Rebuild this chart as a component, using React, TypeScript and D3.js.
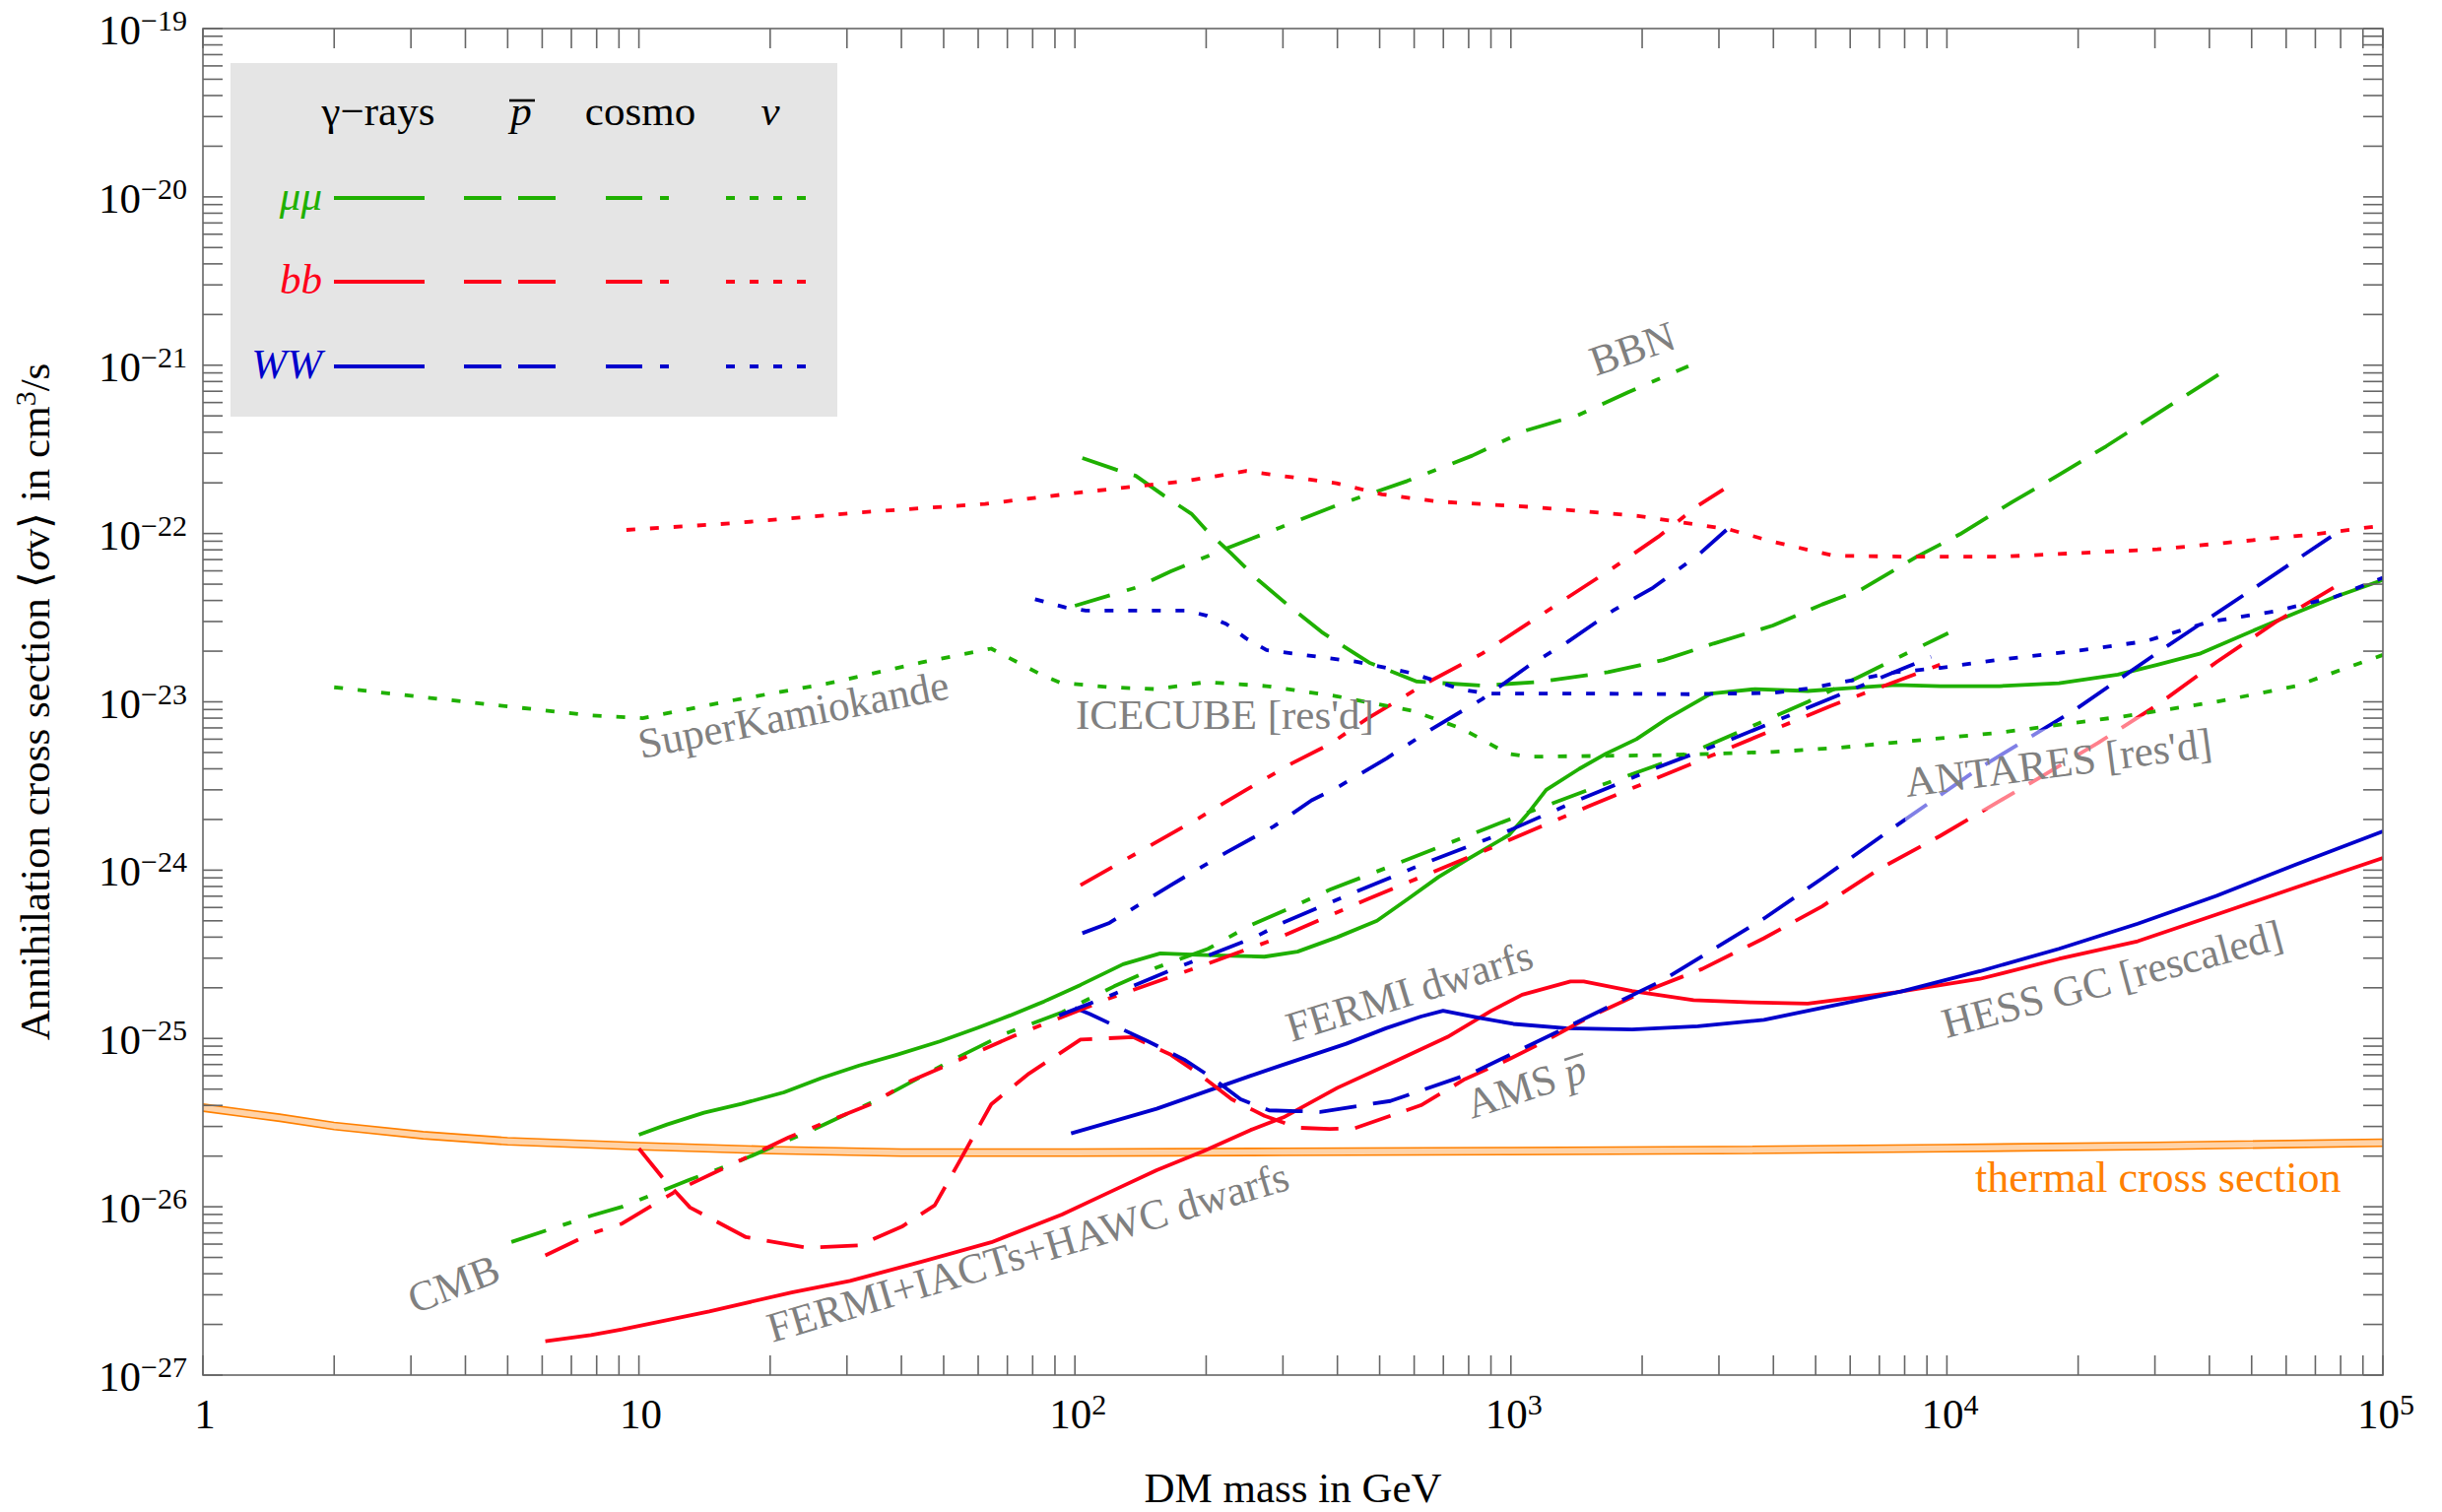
import React from 'react'
import * as d3 from 'd3'

type Pt = [number, number]

// thermal relic cross section, centre of the band  [mass GeV, <sigma v> cm^3/s]
const thermal: Pt[] = [
  [1, 3.88e-26], [1.5, 3.38e-26], [2, 3.02e-26], [3.2, 2.66e-26], [5, 2.45e-26], [10, 2.29e-26],
  [20, 2.17e-26], [40, 2.1e-26], [100, 2.1e-26], [300, 2.12e-26], [1000, 2.14e-26], [3000, 2.17e-26],
  [10000, 2.23e-26], [30000, 2.3e-26], [100000, 2.4e-26],
]

// gamma rays
const gammaMuMu: Pt[] = [
  [10, 2.68e-26], [11.6, 3.08e-26], [14.1, 3.62e-26], [17.2, 4.09e-26], [21.5, 4.78e-26], [26.2, 5.81e-26],
  [32, 6.9e-26], [39, 8.0e-26], [49, 9.6e-26], [60, 1.16e-25], [71, 1.37e-25], [85, 1.66e-25],
  [103, 2.08e-25], [129, 2.76e-25], [157, 3.2e-25], [192, 3.14e-25], [229, 3.1e-25], [272, 3.06e-25],
  [324, 3.28e-25], [400, 4.0e-25], [493, 5.0e-25], [581, 6.76e-25], [682, 9.1e-25], [804, 1.18e-24],
  [991, 1.62e-24], [1086, 2.12e-24], [1205, 3.0e-24], [1435, 4.0e-24], [1652, 4.92e-24], [1941, 6.0e-24],
  [2286, 7.96e-24], [2877, 1.12e-23], [3631, 1.19e-23], [4797, 1.16e-23], [6053, 1.21e-23], [7638, 1.26e-23],
  [9660, 1.24e-23], [13213, 1.24e-23], [18072, 1.29e-23], [24660, 1.45e-23], [30409, 1.66e-23],
  [38194, 1.94e-23], [51168, 2.69e-23], [63096, 3.37e-23], [77625, 4.2e-23], [100000, 5.3e-23],
]
const gammaBB: Pt[] = [
  [6.1, 1.59e-27], [7.76, 1.73e-27], [9.15, 1.87e-27], [14.5, 2.39e-27], [22.4, 3.1e-27], [30.5, 3.63e-27],
  [44.3, 4.7e-27], [64.3, 6.15e-27], [93.4, 9.0e-27], [120, 1.22e-26], [154, 1.65e-26], [197, 2.14e-26],
  [253, 2.86e-26], [301, 3.4e-26], [400, 5.09e-26], [529, 7.1e-26], [715, 1.02e-25], [902, 1.46e-25],
  [1061, 1.82e-25], [1370, 2.18e-25], [1469, 2.18e-25], [1897, 1.91e-25], [2624, 1.69e-25],
  [3550, 1.64e-25], [4797, 1.61e-25], [7638, 1.88e-25], [11910, 2.26e-25], [18070, 2.97e-25],
  [27400, 3.78e-25], [41500, 5.44e-25], [63100, 7.89e-25], [100000, 1.18e-24],
]
const gammaWW: Pt[] = [
  [98, 2.73e-26], [154, 3.82e-26], [253, 6.0e-26], [296, 6.89e-26], [419, 9.3e-26], [517, 1.15e-25],
  [622, 1.35e-25], [699, 1.46e-25], [841, 1.33e-25], [1013, 1.22e-25], [1339, 1.15e-25], [1897, 1.13e-25],
  [2685, 1.18e-25], [3805, 1.29e-25], [5176, 1.52e-25], [7850, 1.9e-25], [11910, 2.51e-25],
  [18070, 3.41e-25], [27400, 4.81e-25], [41500, 7.03e-25], [63100, 1.08e-24], [100000, 1.7e-24],
]

// antiprotons
const pbarMuMu: Pt[] = [
  [104, 2.81e-22], [124, 2.4e-22], [138, 2.2e-22], [160, 1.68e-22], [185, 1.31e-22], [200, 1.05e-22],
  [228, 7.64e-23], [264, 5.26e-23], [306, 3.81e-23], [368, 2.6e-23], [420, 2.08e-23], [473, 1.71e-23],
  [609, 1.32e-23], [860, 1.25e-23], [1151, 1.31e-23], [1670, 1.5e-23], [2235, 1.77e-23], [2917, 2.22e-23],
  [3990, 2.84e-23], [5176, 3.79e-23], [6368, 4.66e-23], [8531, 7.28e-23], [10715, 9.91e-23],
  [14060, 1.53e-22], [18060, 2.23e-22], [23190, 3.3e-22], [29760, 4.99e-22], [38200, 7.53e-22],
  [43350, 9.26e-22],
]
const pbarBB: Pt[] = [
  [10, 2.22e-26], [11.3, 1.5e-26], [13.1, 9.9e-27], [17.6, 6.6e-27], [24.4, 5.7e-27], [32, 5.9e-27],
  [40.1, 7.62e-27], [47.7, 1.02e-26], [54.1, 1.82e-26], [64.3, 4.07e-26], [78.5, 6.19e-26], [103, 9.84e-26],
  [136, 1.02e-25], [166, 8.0e-26], [192, 6.19e-26], [229, 4.35e-26], [272, 3.47e-26], [324, 2.95e-26],
  [384, 2.9e-26], [439, 2.93e-26], [622, 4.01e-26], [785, 5.74e-26], [991, 7.53e-26], [1191, 9.57e-26],
  [1503, 1.33e-25], [2032, 1.91e-25], [2748, 2.59e-25], [3805, 3.94e-25], [5176, 6.1e-25],
  [7063, 1.03e-24], [9660, 1.6e-24], [12400, 2.34e-24], [16270, 3.53e-24], [22230, 5.71e-24],
  [30410, 9.6e-24], [41500, 1.72e-23], [56800, 2.98e-23], [77600, 4.82e-23],
]
const pbarWW: Pt[] = [
  [100, 1.52e-25], [108, 1.4e-25], [146, 9.7e-26], [178, 7.5e-26], [207, 5.8e-26], [240, 4.35e-26],
  [279, 3.74e-26], [324, 3.7e-26], [365, 3.66e-26], [529, 4.25e-26], [822, 6.29e-26], [1339, 1.16e-25],
  [2232, 2.22e-25], [3805, 5.16e-25], [5176, 8.93e-25], [7520, 1.78e-24], [11910, 4.06e-24],
  [19630, 8.93e-24], [31700, 2.11e-23], [51200, 4.82e-23], [76000, 9.58e-23],
]

// cosmology: CMB (lower) and BBN (upper)
const cmbMuMu: Pt[] = [
  [5.1, 6.18e-27], [7.76, 8.84e-27], [9.15, 1.0e-26], [13.1, 1.45e-26], [16.6, 1.82e-26], [25, 2.86e-26],
  [36.3, 4.48e-26], [51.4, 7.26e-26], [69.3, 1.07e-25], [93.4, 1.43e-25], [123, 2.04e-25], [154, 2.64e-25],
  [202, 3.41e-25], [253, 4.71e-25], [309, 5.9e-25], [384, 7.64e-25], [517, 1.03e-24], [991, 2.0e-24],
  [1574, 3.13e-24], [2566, 4.92e-24], [4797, 1.0e-23], [6370, 1.43e-23], [7520, 1.77e-23], [10070, 2.56e-23],
]
const cmbBB: Pt[] = [
  [6.1, 5.14e-27], [7.76, 6.92e-27], [9.15, 7.94e-27], [12.3, 1.26e-26], [22.1, 2.59e-26], [34, 4.07e-26],
  [42.2, 5.62e-26], [72.8, 1.04e-25], [120, 1.73e-25], [197, 2.72e-25], [296, 4.0e-25], [471, 6.76e-25],
  [861, 1.29e-24], [1503, 2.39e-24], [2877, 4.78e-24], [5395, 9.42e-24], [9640, 1.66e-23],
]
const cmbWW: Pt[] = [
  [92, 1.37e-25], [120, 1.79e-25], [166, 2.55e-25], [259, 4.0e-25], [296, 4.8e-25], [439, 7.4e-25],
  [652, 1.13e-24], [991, 1.72e-24], [1435, 2.62e-24], [2130, 4.0e-24], [3160, 5.9e-24], [4690, 9.0e-24],
  [8000, 1.59e-23], [9200, 1.85e-23],
]
const bbnMuMu: Pt[] = [
  [100, 3.72e-23], [138, 4.77e-23], [166, 5.97e-23], [228, 8.36e-23], [297, 1.09e-22], [398, 1.47e-22],
  [578, 2.05e-22], [815, 2.9e-22], [1078, 4.08e-22], [1423, 5.04e-22], [1857, 6.9e-22], [2553, 9.88e-22],
]
const bbnBB: Pt[] = [
  [103, 8.15e-25], [146, 1.36e-24], [192, 2.03e-24], [247, 3.0e-24], [314, 4.3e-24], [384, 5.6e-24],
  [467, 7.91e-24], [643, 1.3e-23], [860, 1.94e-23], [1063, 2.78e-23], [1350, 4.17e-23], [1714, 6.24e-23],
  [2178, 9.57e-23], [2692, 1.47e-22], [3073, 1.83e-22],
]
const bbnWW: Pt[] = [
  [104, 4.22e-25], [120, 4.86e-25], [166, 8.15e-25], [223, 1.28e-24], [286, 1.82e-24], [349, 2.6e-24],
  [398, 3.08e-24], [519, 4.62e-24], [660, 6.92e-24], [860, 1.04e-23], [1092, 1.62e-23], [1350, 2.27e-23],
  [1714, 3.48e-23], [2120, 4.77e-23], [2692, 7.47e-23], [3120, 1.05e-22],
]

// neutrinos (SuperK / IceCube / ANTARES)
const nuMuMu: Pt[] = [
  [2, 1.22e-23], [4, 1.0e-23], [7.76, 8.3e-24], [10.2, 8.0e-24], [16.4, 1.02e-23], [26.9, 1.28e-23],
  [44.3, 1.71e-23], [64.3, 2.07e-23], [84.6, 1.43e-23], [92.5, 1.3e-23], [120, 1.22e-23], [153, 1.19e-23],
  [200, 1.31e-23], [275, 1.24e-23], [398, 1.08e-23], [593, 8.86e-24], [773, 6.92e-24], [982, 4.93e-24],
  [1092, 4.72e-24], [2235, 4.82e-24], [3990, 5.04e-24], [5620, 5.33e-24], [13200, 6.56e-24],
  [25200, 8.17e-24], [41500, 1.0e-23], [63100, 1.24e-23], [100000, 1.9e-23],
]
const nuBB: Pt[] = [
  [9.36, 1.05e-22], [16.4, 1.15e-22], [31.6, 1.33e-22], [62.2, 1.5e-22], [106, 1.77e-22], [180, 2.05e-22],
  [247, 2.35e-22], [398, 1.99e-22], [506, 1.71e-22], [677, 1.55e-22], [1151, 1.43e-22], [1959, 1.27e-22],
  [3157, 1.06e-22], [3990, 8.94e-23], [5500, 7.38e-23], [8350, 7.28e-23], [13200, 7.28e-23],
  [30400, 8.05e-23], [70000, 9.91e-23], [96000, 1.1e-22],
]
const nuWW: Pt[] = [
  [81, 4.07e-23], [95, 3.64e-23], [106, 3.48e-23], [180, 3.48e-23], [200, 3.26e-23], [222, 2.91e-23],
  [247, 2.38e-23], [275, 2.03e-23], [443, 1.73e-23], [593, 1.48e-23], [773, 1.18e-23], [883, 1.12e-23],
  [1500, 1.12e-23], [2553, 1.11e-23], [3990, 1.13e-23], [4800, 1.2e-23], [7640, 1.5e-23], [9640, 1.59e-23],
  [13200, 1.78e-23], [19630, 2.0e-23], [28560, 2.29e-23], [39800, 2.98e-23], [56800, 3.46e-23],
  [77600, 4.2e-23], [100000, 5.46e-23],
]

const GREEN = '#1fb000'
const RED = '#ff0019'
const BLUE = '#0000cc'
const ORANGE = '#ff8000'
const GRAY = '#808080'
const FONT = "'Liberation Serif', 'Times New Roman', Times, serif"

const DASH: Record<string, string | undefined> = {
  solid: undefined,
  dashed: '38,17',
  dotdash: '37,18,9,18',
  dotted: '9,15',
}

const curves: { data: Pt[]; color: string; style: string }[] = [
  { data: gammaMuMu, color: GREEN, style: 'solid' },
  { data: gammaBB, color: RED, style: 'solid' },
  { data: gammaWW, color: BLUE, style: 'solid' },
  { data: pbarMuMu, color: GREEN, style: 'dashed' },
  { data: pbarBB, color: RED, style: 'dashed' },
  { data: pbarWW, color: BLUE, style: 'dashed' },
  { data: cmbMuMu, color: GREEN, style: 'dotdash' },
  { data: cmbBB, color: RED, style: 'dotdash' },
  { data: cmbWW, color: BLUE, style: 'dotdash' },
  { data: bbnMuMu, color: GREEN, style: 'dotdash' },
  { data: bbnBB, color: RED, style: 'dotdash' },
  { data: bbnWW, color: BLUE, style: 'dotdash' },
  { data: nuMuMu, color: GREEN, style: 'dotted' },
  { data: nuBB, color: RED, style: 'dotted' },
  { data: nuWW, color: BLUE, style: 'dotted' },
]

const notes = [
  { text: 'BBN', x: 1620, y: 382, angle: -19 },
  { text: 'SuperKamiokande', x: 651, y: 770, angle: -11 },
  { text: "ICECUBE [res'd]", x: 1092, y: 740, angle: 0 },
  { text: 'FERMI dwarfs', x: 1311, y: 1058, angle: -17 },
  { text: 'HESS GC [rescaled]', x: 1976, y: 1054, angle: -15 },
  { text: 'FERMI+IACTs+HAWC dwarfs', x: 784, y: 1363, angle: -16.5 },
  { text: 'CMB', x: 421, y: 1334, angle: -21 },
]

const W = 2479
const H = 1535
const L = 206
const R = 2419
const T = 29
const B = 1396

const App: React.FC = () => {
  const x = d3.scaleLog().domain([1, 1e5]).range([L, R])
  const y = d3.scaleLog().domain([1e-27, 1e-19]).range([B, T])

  const line = d3.line<Pt>().x((d) => x(d[0])).y((d) => y(d[1]))
  const bw = 1.05
  const band = d3
    .area<Pt>()
    .x((d) => x(d[0]))
    .y0((d) => y(d[1] / bw))
    .y1((d) => y(d[1] * bw))

  const isMajor = (v: number) => Math.abs(Math.log10(v) - Math.round(Math.log10(v))) < 1e-6
  const xt = x.ticks()
  const yt = y.ticks()
  const tk = 20
  const axisColor = '#666'

  const legendRows = [
    { label: 'μμ', color: GREEN, y: 201 },
    { label: 'bb', color: RED, y: 286 },
    { label: 'WW', color: BLUE, y: 372 },
  ]
  const legendCols = [
    { style: 'solid', x1: 339, x2: 431 },
    { style: 'dashed', x1: 471, x2: 564 },
    { style: 'dotdash', x1: 615, x2: 679 },
    { style: 'dotted', x1: 737, x2: 818 },
  ]

  return (
    <svg
      width={W}
      height={H}
      style={{ position: 'absolute', left: 0, top: 0, background: '#fff' }}
      fontFamily={FONT}
    >
      <defs>
        <clipPath id="plot">
          <rect x={L} y={T} width={R - L} height={B - T} />
        </clipPath>
      </defs>
      <rect x={0} y={0} width={W} height={H} fill="#fff" />

      <g clipPath="url(#plot)">
        <path d={band(thermal) || ''} fill="#ffd3a8" stroke="none" />
        <path d={line(thermal.map((d) => [d[0], d[1] / bw] as Pt)) || ''} fill="none" stroke={ORANGE} strokeWidth={1.6} />
        <path d={line(thermal.map((d) => [d[0], d[1] * bw] as Pt)) || ''} fill="none" stroke={ORANGE} strokeWidth={1.6} />

        {curves.map((c, i) => (
          <path
            key={i}
            d={line(c.data) || ''}
            fill="none"
            stroke={c.color}
            strokeWidth={3.8}
            strokeDasharray={DASH[c.style]}
            strokeLinejoin="round"
          />
        ))}

        {/* ANTARES label sits on a half transparent white box */}
        <g transform="translate(1936,809) rotate(-7.5)">
          <rect x={-5} y={-50} width={327} height={74} fill="#fff" opacity={0.5} />
        </g>
      </g>

      {/* frame and ticks */}
      <rect x={L} y={T} width={R - L} height={B - T} fill="none" stroke={axisColor} strokeWidth={1.6} />
      {xt.map((v, i) => (
        <g key={'x' + i} stroke={axisColor} strokeWidth={1.6}>
          <line x1={x(v)} x2={x(v)} y1={B} y2={B - tk} />
          <line x1={x(v)} x2={x(v)} y1={T} y2={T + tk} />
        </g>
      ))}
      {yt.map((v, i) => (
        <g key={'y' + i} stroke={axisColor} strokeWidth={1.6}>
          <line x1={L} x2={L + tk} y1={y(v)} y2={y(v)} />
          <line x1={R} x2={R - tk} y1={y(v)} y2={y(v)} />
        </g>
      ))}

      {/* tick labels */}
      {xt.filter(isMajor).map((v, i) => {
        const k = Math.round(Math.log10(v))
        return (
          <text key={'xl' + i} x={x(v) + (k > 1 ? 3 : 2)} y={1450} fontSize={43} textAnchor="middle">
            {k === 0 ? '1' : '10'}
            {k > 1 && (
              <tspan dy={-14} fontSize={30}>
                {k}
              </tspan>
            )}
          </text>
        )
      })}
      {yt.filter(isMajor).map((v, i) => {
        const k = Math.round(Math.log10(v))
        return (
          <text key={'yl' + i} x={190} y={y(v) + 16} fontSize={43} textAnchor="end">
            10
            <tspan dy={-14} fontSize={30}>
              {'\u2212' + Math.abs(k)}
            </tspan>
          </text>
        )
      })}

      {/* axis titles */}
      <text x={(L + R) / 2} y={1525} fontSize={43} textAnchor="middle">
        DM mass in GeV
      </text>
      <text transform={`translate(50,${(T + B) / 2}) rotate(-90)`} fontSize={43} textAnchor="middle">
        Annihilation cross section {'\u27e8'}
        <tspan fontStyle="italic">σ</tspan>v{'\u27e9'} in cm
        <tspan dy={-14} fontSize={30}>
          3
        </tspan>
        <tspan dy={14}>/s</tspan>
      </text>

      {/* curve annotations */}
      {notes.map((n, i) => (
        <text key={'n' + i} transform={`translate(${n.x},${n.y}) rotate(${n.angle})`} fontSize={43} fill={GRAY}>
          {n.text}
        </text>
      ))}
      <text transform="translate(1936,809) rotate(-7.5)" fontSize={43} fill={GRAY}>
        ANTARES [res'd]
      </text>
      <g transform="translate(1494,1136) rotate(-18)">
        <text fontSize={43} fill={GRAY}>
          AMS <tspan fontStyle="italic">p</tspan>
        </text>
        <line x1={108} x2={128} y1={-28} y2={-28} stroke={GRAY} strokeWidth={2.4} />
      </g>
      <text x={2005} y={1210} fontSize={44} fill={ORANGE}>
        thermal cross section
      </text>

      {/* legend */}
      <rect x={234} y={64} width={616} height={359} fill="#e5e5e5" />
      <text x={384} y={127} fontSize={43} textAnchor="middle">
        γ−rays
      </text>
      <text x={529} y={127} fontSize={43} textAnchor="middle" fontStyle="italic">
        p
      </text>
      <line x1={517} x2={543} y1={102} y2={102} stroke="#000" strokeWidth={2.6} />
      <text x={650} y={127} fontSize={43} textAnchor="middle">
        cosmo
      </text>
      <text x={782} y={127} fontSize={43} textAnchor="middle" fontStyle="italic">
        ν
      </text>
      {legendRows.map((r) => (
        <g key={r.label}>
          <text x={327} y={r.y + 12} fontSize={43} textAnchor="end" fontStyle="italic" fill={r.color}>
            {r.label}
          </text>
          {legendCols.map((c) => (
            <line
              key={c.style}
              x1={c.x1}
              x2={c.x2}
              y1={r.y}
              y2={r.y}
              stroke={r.color}
              strokeWidth={4}
              strokeDasharray={DASH[c.style]}
            />
          ))}
        </g>
      ))}
    </svg>
  )
}

export default App
